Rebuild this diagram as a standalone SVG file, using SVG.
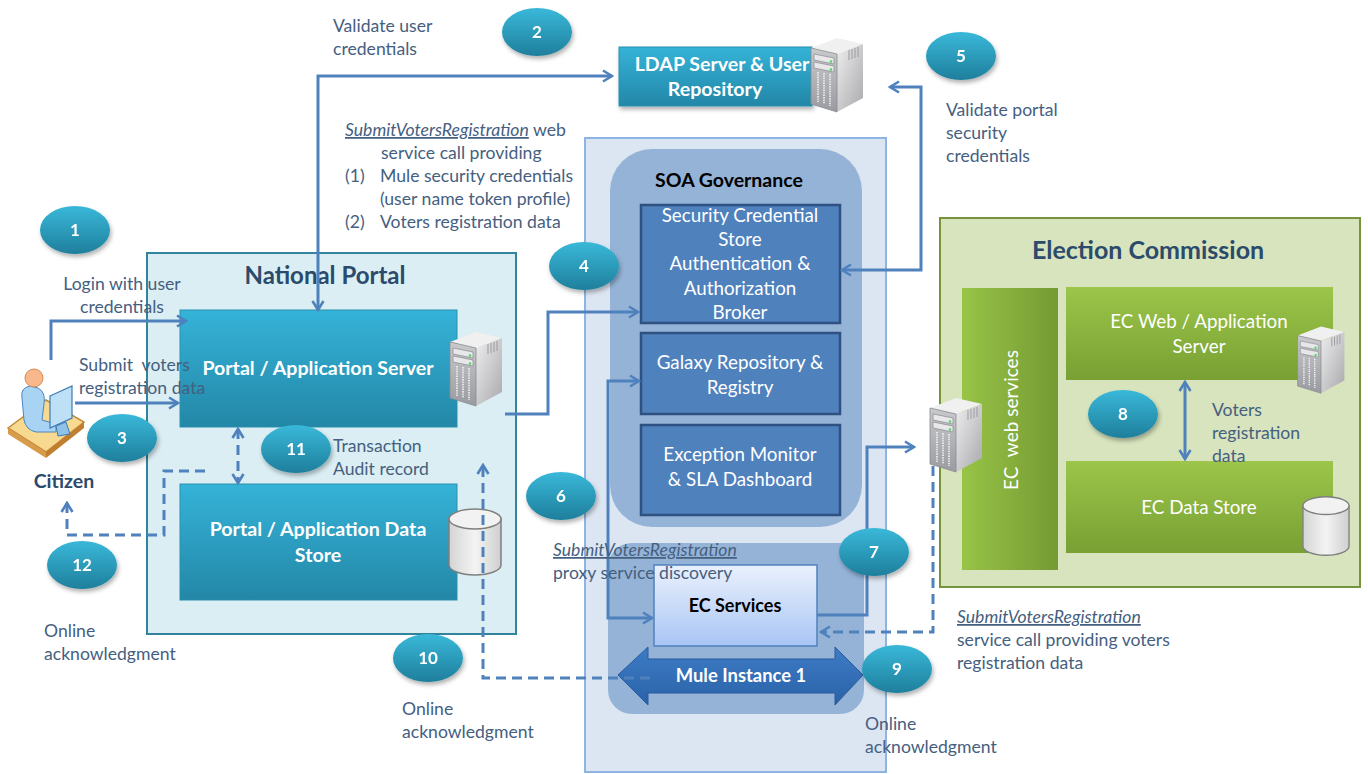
<svg xmlns="http://www.w3.org/2000/svg" width="1368" height="774" viewBox="0 0 1368 774">
  <style>
    .lbl { font-family: Lato, "Liberation Sans", sans-serif; font-size: 17.6px; fill: #45607f; }
    .lbl-u { font-style: italic; text-decoration: underline; }
    .num { font-family: Lato, "Liberation Sans", sans-serif; font-size: 17px; font-weight: bold; fill: #ffffff; text-anchor: middle; }
    .wt { font-family: Lato, "Liberation Sans", sans-serif; font-size: 18.8px; fill: #ffffff; text-anchor: middle; }
    .wtb { font-family: Lato, "Liberation Sans", sans-serif; font-size: 19.6px; font-weight: bold; fill: #ffffff; text-anchor: middle; }
    .title { font-family: Lato, "Liberation Sans", sans-serif; font-weight: bold; fill: #2c4a6b; text-anchor: middle; }
    .conn { fill: none; stroke: #4f81bd; stroke-width: 3; }
    .dash { stroke-dasharray: 10 6; }
    .teal { fill: url(#gTeal); stroke: #2a8fae; stroke-width: 1; }
    .green { fill: url(#gGreen); }
    .dkblue { fill: #4f81bd; stroke: #2f5181; stroke-width: 2.5; }
  </style>
  <defs>
    <linearGradient id="gTeal" x1="0" y1="0" x2="0" y2="1">
      <stop offset="0" stop-color="#35b3d8"/>
      <stop offset="1" stop-color="#2387a7"/>
    </linearGradient>
    <linearGradient id="gBall" x1="0" y1="0" x2="0" y2="1">
      <stop offset="0" stop-color="#3ab8d9"/>
      <stop offset="1" stop-color="#1e7f9c"/>
    </linearGradient>
    <linearGradient id="gGreen" x1="0" y1="0" x2="0" y2="1">
      <stop offset="0" stop-color="#9cc54a"/>
      <stop offset="1" stop-color="#78a033"/>
    </linearGradient>
    <linearGradient id="gGreenH" x1="0" y1="0" x2="1" y2="0">
      <stop offset="0" stop-color="#98c446"/>
      <stop offset="1" stop-color="#749a34"/>
    </linearGradient>
    <linearGradient id="gEcs" x1="0" y1="0" x2="0" y2="1">
      <stop offset="0" stop-color="#eaf1fd"/>
      <stop offset="1" stop-color="#a9c5f4"/>
    </linearGradient>
    <linearGradient id="gMule" x1="0" y1="0" x2="0" y2="1">
      <stop offset="0" stop-color="#3d7cc6"/>
      <stop offset="1" stop-color="#2a62a8"/>
    </linearGradient>
    <linearGradient id="gSrvSide" x1="0" y1="0" x2="1" y2="1">
      <stop offset="0" stop-color="#eeeeee"/>
      <stop offset="1" stop-color="#a9a9ad"/>
    </linearGradient>
    <linearGradient id="gSrvFront" x1="0" y1="0" x2="0" y2="1">
      <stop offset="0" stop-color="#c9cacd"/>
      <stop offset="1" stop-color="#9a9ba0"/>
    </linearGradient>
    <linearGradient id="gCyl" x1="0" y1="0" x2="1" y2="0">
      <stop offset="0" stop-color="#d4d4d4"/>
      <stop offset="0.5" stop-color="#f4f4f4"/>
      <stop offset="1" stop-color="#cfcfcf"/>
    </linearGradient>
    <filter id="shadow" x="-20%" y="-20%" width="150%" height="160%">
      <feDropShadow dx="1.5" dy="3" stdDeviation="2" flood-color="#000" flood-opacity="0.3"/>
    </filter>
    <marker id="arr" viewBox="0 0 14 14" refX="12" refY="7" markerWidth="14" markerHeight="14" markerUnits="userSpaceOnUse" orient="auto-start-reverse">
      <path d="M3,1.5 L12,7 L3,12.5" fill="none" stroke="#4f81bd" stroke-width="2.6" stroke-linejoin="miter"/>
    </marker>
    <!-- tower server icon -->
    <symbol id="server" viewBox="0 0 60 80">
      <polygon points="4,14 30,4 56,10 30,20" fill="#f0f0f0"/>
      <polygon points="30,20 56,10 56,64 30,78" fill="url(#gSrvSide)"/>
      <polygon points="4,14 30,20 30,78 4,70" fill="url(#gSrvFront)" stroke="#8a8b90" stroke-width="0.8"/>
      <polygon points="7,20 27,24 27,30 7,26" fill="#e8e8ea" stroke="#7d7e83" stroke-width="0.6"/>
      <polygon points="7,28 27,32 27,38 7,34" fill="#e8e8ea" stroke="#7d7e83" stroke-width="0.6"/>
      <circle cx="24" cy="27.5" r="1.3" fill="#4cd964"/>
      <circle cx="24" cy="35.5" r="1.3" fill="#4cd964"/>
      <g stroke="#f4f4f4" stroke-width="1.6" stroke-dasharray="1.4 1">
        <line x1="11" y1="38" x2="11" y2="68"/>
        <line x1="17" y1="39" x2="17" y2="70"/>
        <line x1="23" y1="40" x2="23" y2="72"/>
      </g>
      <g stroke="#9a9ba0" stroke-width="1">
        <line x1="42" y1="16" x2="42" y2="26"/>
        <line x1="45" y1="15" x2="45" y2="25"/>
        <line x1="48" y1="14" x2="48" y2="24"/>
        <line x1="51" y1="13" x2="51" y2="23"/>
      </g>
    </symbol>
    <!-- database cylinder icon -->
    <symbol id="cyl" viewBox="0 0 56 70">
      <path d="M2,12 L2,58 A26,10 0 0 0 54,58 L54,12 Z" fill="url(#gCyl)" stroke="#7f7f7f" stroke-width="1.5"/>
      <ellipse cx="28" cy="12" rx="26" ry="10" fill="#f2f2f2" stroke="#7f7f7f" stroke-width="1.5"/>
    </symbol>
  </defs>

  <rect width="1368" height="774" fill="#ffffff"/>

  <!-- Mule / SOA outer container -->
  <g id="soa-container">
    <rect x="585" y="138" width="301" height="634" fill="#dce6f2" stroke="#8eb4e3" stroke-width="2"/>
    <rect x="610" y="149" width="252" height="378" rx="42" fill="#95b3d7"/>
    <rect x="608" y="543" width="256" height="171" rx="24" fill="#95b3d7"/>
    <text x="729" y="187" font-family="Lato, 'Liberation Sans', sans-serif" font-size="19.5" font-weight="bold" fill="#000" text-anchor="middle">SOA Governance</text>
  </g>

  <g id="security-broker">
    <rect class="dkblue" x="641" y="205" width="199" height="118"/>
    <text class="wt" x="740" y="222">Security Credential</text>
    <text class="wt" x="740" y="246">Store</text>
    <text class="wt" x="740" y="270">Authentication &amp;</text>
    <text class="wt" x="740" y="295">Authorization</text>
    <text class="wt" x="740" y="319">Broker</text>
  </g>

  <g id="galaxy-registry">
    <rect class="dkblue" x="641" y="333" width="199" height="81"/>
    <text class="wt" x="740" y="369">Galaxy Repository &amp;</text>
    <text class="wt" x="740" y="394">Registry</text>
  </g>

  <g id="exception-monitor">
    <rect class="dkblue" x="641" y="425" width="199" height="90"/>
    <text class="wt" x="740" y="461">Exception Monitor</text>
    <text class="wt" x="740" y="486">&amp; SLA Dashboard</text>
  </g>

  <g id="ec-services">
    <rect x="654" y="565" width="163" height="81" fill="url(#gEcs)" stroke="#4f81bd" stroke-width="1.5"/>
    <text x="735" y="612" font-family="Lato, 'Liberation Sans', sans-serif" font-size="18" font-weight="bold" fill="#000" text-anchor="middle">EC Services</text>
  </g>

  <g id="mule-instance">
    <polygon points="618,675 648,647 648,659 835,659 835,647 863,675 835,705 835,693 648,693 648,705" fill="url(#gMule)" stroke="#2a5b9b" stroke-width="1"/>
    <text x="741" y="682" font-family="Lato, 'Liberation Sans', sans-serif" font-size="18.4" font-weight="bold" fill="#fff" text-anchor="middle">Mule Instance 1</text>
  </g>

  <!-- National Portal -->
  <g id="national-portal">
    <rect x="147" y="253" width="369" height="381" fill="#daeef3" stroke="#31849b" stroke-width="2"/>
    <text class="title" x="325" y="284" font-size="24">National Portal</text>
  </g>

  <g id="portal-app-server">
    <rect class="teal" x="180" y="310" width="277" height="117"/>
    <text class="wtb" x="318" y="375">Portal / Application Server</text>
    <use href="#server" x="446" y="328" width="60" height="80"/>
  </g>

  <g id="portal-data-store">
    <rect class="teal" x="180" y="484" width="277" height="116"/>
    <text class="wtb" x="318" y="536">Portal / Application Data</text>
    <text class="wtb" x="318" y="562">Store</text>
    <use href="#cyl" x="447" y="507" width="56" height="70"/>
  </g>

  <g id="ldap-server">
    <rect class="teal" x="619" y="47" width="193" height="59" filter="url(#shadow)"/>
    <text class="wtb" x="722" y="71" font-size="19">LDAP Server &amp; User</text>
    <text class="wtb" x="715" y="96" font-size="19">Repository</text>
    <use href="#server" x="807" y="34" width="60" height="80"/>
  </g>

  <!-- Election Commission -->
  <g id="election-commission">
    <rect x="940" y="218" width="420" height="369" fill="#d7e4bd" stroke="#77933c" stroke-width="2"/>
    <text class="title" x="1148" y="259" font-size="25">Election Commission</text>
  </g>

  <g id="ec-web-services">
    <rect x="962" y="288" width="96" height="282" fill="url(#gGreenH)"/>
    <text transform="translate(1018,420) rotate(-90)" font-family="Lato, 'Liberation Sans', sans-serif" font-size="19" fill="#fff" text-anchor="middle" xml:space="preserve">EC  web services</text>
    <use href="#server" x="926" y="394" width="60" height="80"/>
  </g>

  <g id="ec-web-app-server">
    <rect class="green" x="1066" y="287" width="267" height="93"/>
    <text class="wt" x="1199" y="328" font-size="20">EC Web / Application</text>
    <text class="wt" x="1199" y="353" font-size="20">Server</text>
    <use href="#server" x="1294" y="323" width="54" height="72"/>
  </g>

  <g id="ec-data-store">
    <rect class="green" x="1066" y="461" width="267" height="92"/>
    <text class="wt" x="1199" y="514" font-size="20">EC Data Store</text>
    <use href="#cyl" x="1301" y="495" width="50" height="62"/>
  </g>

  <!-- Citizen -->
  <g id="citizen">
    <polygon points="8,428 46,400 84,422 46,452" fill="#f7d98f" stroke="#c48a3a" stroke-width="1.5"/>
    <polygon points="8,428 46,452 46,458 8,434" fill="#d79b4a"/>
    <polygon points="46,452 84,422 84,428 46,458" fill="#c07e30"/>
    <path d="M22,398 Q20,388 30,386 L38,388 Q46,392 44,404 L42,420 L56,424 L56,432 L36,432 Q26,430 24,420 Z" fill="#a9d3f2" stroke="#4a87c0" stroke-width="1"/>
    <circle cx="34" cy="378" r="9" fill="#f8b88b" stroke="#d48a55" stroke-width="1"/>
    <polygon points="50,396 72,386 72,418 50,428" fill="#bde0f7" stroke="#3d7ab5" stroke-width="1.2"/>
    <polygon points="56,426 66,422 70,434 58,436" fill="#8fc2e8" stroke="#3d7ab5" stroke-width="1"/>
    <text class="title" x="64" y="488" font-size="19.5">Citizen</text>
  </g>

  <!-- Connectors -->
  <g id="connectors">
    <path class="conn" d="M51,360 L51,321 L186,321" marker-end="url(#arr)"/>
    <path class="conn" d="M75,403 L178,403" marker-end="url(#arr)"/>
    <path class="conn" d="M318,310 L318,76 L612,76" marker-start="url(#arr)" marker-end="url(#arr)"/>
    <path class="conn" d="M505,414 L548,414 L548,312 L638,312" marker-end="url(#arr)"/>
    <path class="conn" d="M842,270 L921,270 L921,87 L890,87" marker-start="url(#arr)" marker-end="url(#arr)"/>
    <path class="conn" d="M639,381 L608,381 L608,618 L652,618" marker-start="url(#arr)" marker-end="url(#arr)"/>
    <path class="conn" d="M817,615 L867,615 L867,447 L914,447" marker-end="url(#arr)"/>
    <path class="conn" d="M1185,382 L1185,459" marker-start="url(#arr)" marker-end="url(#arr)"/>
    <path class="conn dash" d="M933,466 L933,632 L821,632" marker-end="url(#arr)"/>
    <path class="conn dash" d="M650,678 L483,678 L483,465" marker-end="url(#arr)"/>
    <path class="conn dash" d="M238,429 L238,483" marker-start="url(#arr)" marker-end="url(#arr)"/>
    <path class="conn dash" d="M205,471 L164,471 L164,535 L67,535 L67,503" marker-end="url(#arr)"/>
  </g>

  <!-- Labels -->
  <g id="labels">
    <text class="lbl" x="333" y="32">Validate user</text>
    <text class="lbl" x="333" y="55">credentials</text>
    <text class="lbl" x="345" y="136"><tspan class="lbl-u">SubmitVotersRegistration</tspan> web</text>
    <text class="lbl" x="381" y="159">service call providing</text>
    <text class="lbl" x="345" y="182">(1)<tspan x="380">Mule security credentials</tspan></text>
    <text class="lbl" x="380" y="205">(user name token profile)</text>
    <text class="lbl" x="345" y="228">(2)<tspan x="380">Voters registration data</tspan></text>
    <text class="lbl" x="122" y="290" text-anchor="middle">Login with user</text>
    <text class="lbl" x="122" y="313" text-anchor="middle">credentials</text>
    <text class="lbl" x="79" y="371" xml:space="preserve">Submit  voters</text>
    <text class="lbl" x="79" y="394">registration data</text>
    <text class="lbl" x="333" y="452">Transaction</text>
    <text class="lbl" x="333" y="475">Audit record</text>
    <text class="lbl" x="44" y="637">Online</text>
    <text class="lbl" x="44" y="660">acknowledgment</text>
    <text class="lbl" x="402" y="715">Online</text>
    <text class="lbl" x="402" y="738">acknowledgment</text>
    <text class="lbl" x="865" y="730">Online</text>
    <text class="lbl" x="865" y="753">acknowledgment</text>
    <text class="lbl" x="946" y="116">Validate portal</text>
    <text class="lbl" x="946" y="139">security</text>
    <text class="lbl" x="946" y="162">credentials</text>
    <text class="lbl lbl-u" x="553" y="556">SubmitVotersRegistration</text>
    <text class="lbl" x="553" y="579">proxy service discovery</text>
    <text class="lbl lbl-u" x="957" y="623">SubmitVotersRegistration</text>
    <text class="lbl" x="957" y="646">service call providing voters</text>
    <text class="lbl" x="957" y="669">registration data</text>
    <text class="lbl" x="1212" y="416">Voters</text>
    <text class="lbl" x="1212" y="439">registration</text>
    <text class="lbl" x="1212" y="462">data</text>
  </g>

  <!-- Step markers -->
  <g id="step-markers" filter="url(#shadow)">
    <g id="step-1"><ellipse cx="75" cy="230" rx="35" ry="24" fill="url(#gBall)"/><text class="num" x="75" y="236">1</text></g>
    <g id="step-2"><ellipse cx="537" cy="32" rx="35" ry="24" fill="url(#gBall)"/><text class="num" x="537" y="38">2</text></g>
    <g id="step-3"><ellipse cx="122" cy="438" rx="35" ry="24" fill="url(#gBall)"/><text class="num" x="122" y="444">3</text></g>
    <g id="step-4"><ellipse cx="584" cy="266" rx="35" ry="24" fill="url(#gBall)"/><text class="num" x="584" y="272">4</text></g>
    <g id="step-5"><ellipse cx="961" cy="56" rx="35" ry="24" fill="url(#gBall)"/><text class="num" x="961" y="62">5</text></g>
    <g id="step-6"><ellipse cx="561" cy="496" rx="35" ry="24" fill="url(#gBall)"/><text class="num" x="561" y="502">6</text></g>
    <g id="step-7"><ellipse cx="874" cy="552" rx="35" ry="24" fill="url(#gBall)"/><text class="num" x="874" y="558">7</text></g>
    <g id="step-8"><ellipse cx="1123" cy="414" rx="35" ry="24" fill="url(#gBall)"/><text class="num" x="1123" y="420">8</text></g>
    <g id="step-9"><ellipse cx="897" cy="669" rx="35" ry="24" fill="url(#gBall)"/><text class="num" x="897" y="675">9</text></g>
    <g id="step-10"><ellipse cx="428" cy="658" rx="35" ry="24" fill="url(#gBall)"/><text class="num" x="428" y="664">10</text></g>
    <g id="step-11"><ellipse cx="296" cy="449" rx="35" ry="24" fill="url(#gBall)"/><text class="num" x="296" y="455">11</text></g>
    <g id="step-12"><ellipse cx="82" cy="565" rx="35" ry="24" fill="url(#gBall)"/><text class="num" x="82" y="571">12</text></g>
  </g>
</svg>
